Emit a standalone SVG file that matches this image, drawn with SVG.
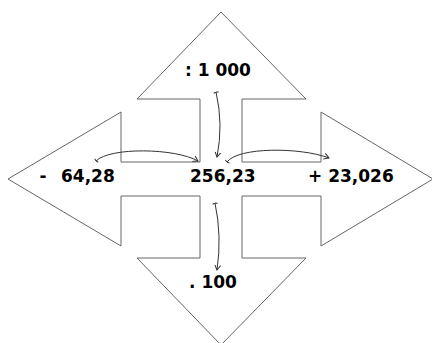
<svg xmlns="http://www.w3.org/2000/svg" width="432" height="343" viewBox="0 0 432 343">
<style>
.shape{fill:#fff;stroke:#666;stroke-width:1}
.lbl{font-family:"DejaVu Sans","Liberation Sans",sans-serif;font-weight:bold;font-size:17px;fill:#000}
.con{fill:none;stroke:#333;stroke-width:1}
</style>
<defs>
<marker id="head" markerUnits="userSpaceOnUse" markerWidth="8" markerHeight="8" refX="5" refY="3" orient="auto" viewBox="0 0 8 6">
<path d="M0,0 L5,3 L0,6" fill="none" stroke="#333" stroke-width="1"/>
</marker>
<marker id="tick" markerUnits="userSpaceOnUse" markerWidth="8" markerHeight="8" refX="0.5" refY="3" orient="auto" viewBox="0 0 8 6">
<path d="M1.2,0.5 L0.5,3 L1.2,5.5" fill="none" stroke="#333" stroke-width="1"/>
</marker>
</defs>
<rect width="432" height="343" fill="#fff"/>
<g id="quad-arrow">
<path class="shape" d="M8,179 L121,112 L121,162 L200,162 L200,99 L137,99 L221,12 L306,99 L242,99 L242,162 L321,162 L321,112 L433,179 L321,246 L321,196 L242,196 L242,258 L306,258 L221,345 L137,258 L200,258 L200,196 L121,196 L121,246 Z"/>
</g>
<g id="connectors">
<path class="con" d="M216,92 Q223.5,124 217,157" marker-start="url(#tick)" marker-end="url(#head)"/>
<path class="con" d="M215,203 Q222,236 217,270" marker-start="url(#tick)" marker-end="url(#head)"/>
<path class="con" d="M96,161 C110,147 175,148 198,161" marker-start="url(#tick)" marker-end="url(#head)"/>
<path class="con" d="M227,162 C238,147 300,147 329,158" marker-start="url(#tick)" marker-end="url(#head)"/>
</g>
<g id="node-div"><text class="lbl" x="185" y="76">: 1 000</text></g>
<g id="node-center"><text class="lbl" x="190" y="182">256,23</text></g>
<g id="node-sub"><text class="lbl" y="182"><tspan x="39.5">-</tspan><tspan x="61">64,28</tspan></text></g>
<g id="node-add"><text class="lbl" x="308" y="182">+ 23,026</text></g>
<g id="node-mul"><text class="lbl" x="189" y="288">. 100</text></g>
</svg>
